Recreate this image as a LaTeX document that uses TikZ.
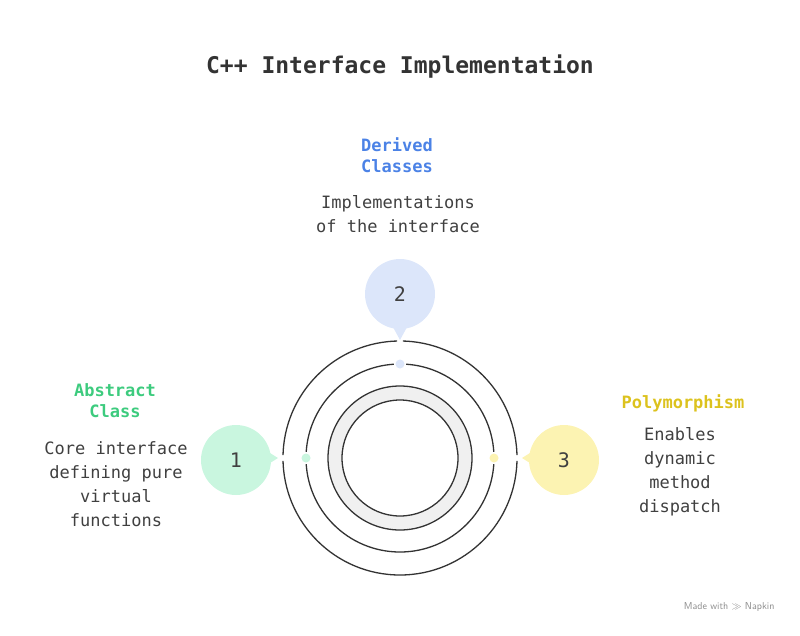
\documentclass[tikz,border=0pt]{standalone}
\usepackage{fontspec}
\setmainfont{DejaVu Sans Mono}
\begin{document}
\begin{tikzpicture}[x=1pt,y=-1pt,
  ring/.style={draw=black!80,line width=1.3pt},
  bub/.style={circle,minimum size=70pt,inner sep=0pt,font=\fontsize{20}{20}\selectfont,text=black!75},
  dot/.style={circle,minimum size=9pt,inner sep=0pt},
  head/.style={font=\fontsize{17}{21}\selectfont\bfseries,align=center},
  body/.style={font=\fontsize{17}{24}\selectfont,align=center,text=black!75}]
\definecolor{gfill}{HTML}{C9F6DF}\definecolor{bfill}{HTML}{DCE6FA}\definecolor{yfill}{HTML}{FCF3B2}
\definecolor{gtxt}{HTML}{3DCB7E}\definecolor{btxt}{HTML}{4B82E6}\definecolor{ytxt}{HTML}{DCC21E}
\useasboundingbox (0,0) rectangle (800,635);
\node[font=\fontsize{23}{23}\selectfont\bfseries,text=black!80] (title) at (400,67) {C++ Interface Implementation};
\coordinate (c) at (400,458);
% grey band
\fill[black!6,even odd rule] (c) circle (72) (c) circle (58);
\draw[ring] (c) circle (72) (c) circle (58);
\draw[ring] (c) circle (94);
\draw[ring] (c) circle (117);
% gaps
\foreach \p in {(400,364),(306,458),(494,458)} \fill[white] \p circle (6);
\foreach \p in {(400,341),(283,458),(517,458)} \fill[white] \p circle (3);
% dots
\node[dot,fill=bfill] (d2) at (400,364) {};
\node[dot,fill=gfill] (d1) at (306,458) {};
\node[dot,fill=yfill] (d3) at (494,458) {};
% bubbles with pointers
\fill[bfill] (388,318) -- (400,340) -- (412,318) -- cycle;
\fill[gfill] (262,448) -- (278,458) -- (262,468) -- cycle;
\fill[yfill] (538,448) -- (522,458) -- (538,468) -- cycle;
\node[bub,fill=bfill] (b2) at (400,294) {2};
\node[bub,fill=gfill] (b1) at (236,460) {1};
\node[bub,fill=yfill] (b3) at (564,460) {3};
% texts
\node[head,text=btxt] (h2) at (397,155) {Derived\\Classes};
\node[body] (t2) at (398,214) {Implementations\\of the interface};
\node[head,text=gtxt] (h1) at (115,401) {Abstract\\Class};
\node[body] (t1) at (116,484) {Core interface\\defining pure\\virtual\\functions};
\node[head,text=ytxt] (h3) at (683,403) {Polymorphism};
\node[body] (t3) at (680,472) {Enables\\dynamic\\method\\dispatch};
\node[font=\fontsize{10}{10}\selectfont\sffamily,text=black!45,anchor=east] (mw) at (778,607) {Made with $\gg$ Napkin};
\end{tikzpicture}
\end{document}
